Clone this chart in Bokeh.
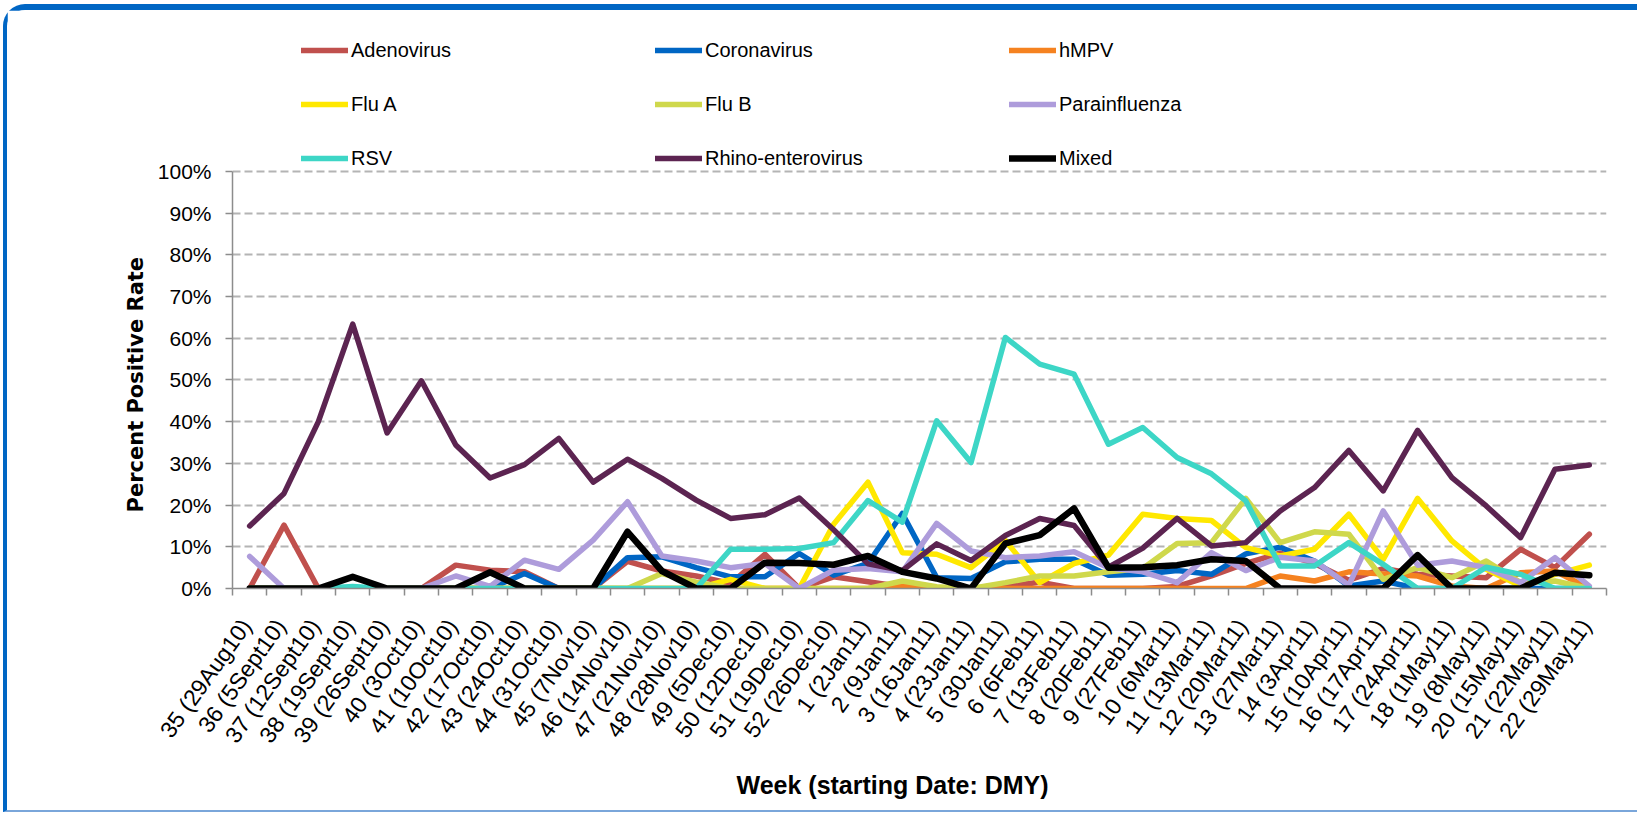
from bokeh.plotting import figure
from bokeh.models import (Range1d, FixedTicker, CustomJSTickFormatter, Legend, LegendItem,
                          PrintfTickFormatter, Title)
from bokeh.layouts import column
from bokeh.embed import file_html
from bokeh.resources import INLINE

weeks = ["35 (29Aug10)", "36 (5Sept10)", "37 (12Sept10)", "38 (19Sept10)", "39 (26Sept10)",
         "40 (3Oct10)", "41 (10Oct10)", "42 (17Oct10)", "43 (24Oct10)", "44 (31Oct10)",
         "45 (7Nov10)", "46 (14Nov10)", "47 (21Nov10)", "48 (28Nov10)", "49 (5Dec10)",
         "50 (12Dec10)", "51 (19Dec10)", "52 (26Dec10)", "1 (2Jan11)", "2 (9Jan11)",
         "3 (16Jan11)", "4 (23Jan11)", "5 (30Jan11)", "6 (6Feb11)", "7 (13Feb11)",
         "8 (20Feb11)", "9 (27Feb11)", "10 (6Mar11)", "11 (13Mar11)", "12 (20Mar11)",
         "13 (27Mar11)", "14 (3Apr11)", "15 (10Apr11)", "16 (17Apr11)", "17 (24Apr11)",
         "18 (1May11)", "19 (8May11)", "20 (15May11)", "21 (22May11)", "22 (29May11)"]

adenovirus = [0, 15.2, 0, 0, 0, 0, 5.6, 4.4, 4.0, 0, 0, 6.5, 4.2, 3.0, 1.2, 8.2, 0, 2.8, 1.6, 0.4,
              0, 0, 0.5, 1.5, 0, 0, 0, 0.5, 3.0, 6.0, 8.5, 6.0, 2.0, 4.8, 3.4, 3.0, 2.6, 9.4, 5.0, 13.0]
coronavirus = [0, 0, 0, 0, 0, 0, 0, 0, 3.6, 0, 0, 7.4, 7.6, 5.0, 2.8, 2.8, 8.4, 3.2, 6.0, 18.0,
               2.6, 2.4, 6.4, 7.0, 7.0, 3.2, 3.4, 4.3, 3.4, 8.3, 9.9, 6.6, 0.6, 1.8, 0, 0, 0, 0, 0, 0]
hmpv = [0, 0, 0, 0, 0, 0, 0, 0, 0, 0, 0, 0, 0, 0, 0, 0, 0, 0, 0, 0.8,
        0, 0, 0, 0, 0, 0, 0, 0, 0, 0, 3.0, 1.8, 4.0, 3.5, 3.0, 0.6, 0, 3.8, 4.2, 0]
flu_a = [0, 0, 0, 0, 0, 0, 0, 0, 0, 0, 0, 0, 0, 0, 2.2, 0, 0, 15.4, 25.5, 8.6,
         8.2, 5.0, 11.5, 1.4, 6.0, 8.0, 17.8, 16.8, 16.3, 9.8, 7.8, 9.4, 17.8, 7.0, 21.6, 11.4, 4.6, 0.6, 3.4, 5.6]
flu_b = [0, 0, 0, 0, 0, 0, 0, 0, 0, 0, 0, 0, 3.6, 1.5, 0, 0, 0, 0, 0, 1.8,
         0.4, 0, 1.4, 3.0, 3.0, 4.0, 4.8, 10.8, 11.0, 21.6, 11.0, 13.6, 13.0, 2.2, 5.0, 2.6, 6.6, 1.4, 1.8, 0]
parainfluenza = [7.7, 0, 0, 0, 0, 0, 3.0, 0.5, 6.8, 4.6, 11.6, 20.8, 7.8, 6.6, 5.0, 6.0, 0, 4.4, 4.8, 4.0,
                 15.6, 9.0, 7.4, 7.8, 8.8, 5.0, 4.0, 1.4, 8.6, 4.3, 7.5, 6.6, 0.8, 18.6, 5.6, 6.6, 5.0, 1.4, 7.4, 0.6]
rsv = [0, 0, 0, 0.5, 0, 0, 0, 0, 0, 0, 0, 0, 0, 0, 9.4, 9.4, 9.6, 11.0, 21.1, 15.9,
       40.2, 30.2, 60.2, 53.8, 51.4, 34.6, 38.6, 31.4, 27.5, 21.0, 5.4, 5.4, 11.0, 5.8, 0, 0, 5.1, 3.4, 0, 0]
rhino = [15.0, 22.8, 40.0, 63.4, 37.3, 49.8, 34.4, 26.5, 29.7, 36.0, 25.5, 31.0, 26.4, 21.2, 16.8, 17.7, 21.7, 14.1, 5.9, 4.3,
         10.7, 6.7, 12.7, 16.8, 15.1, 5.1, 9.7, 16.8, 10.2, 11.0, 18.6, 24.2, 33.1, 23.4, 37.9, 26.6, 19.8, 12.2, 28.6, 29.6]
mixed = [0, 0, 0, 2.8, 0, 0, 0, 3.9, 0, 0, 0, 13.6, 4.2, 0, 0, 6.2, 6.1, 5.7, 7.8, 4.0,
         2.4, 0, 10.8, 12.8, 19.2, 5.0, 5.1, 5.6, 7.0, 6.6, 0, 0, 0, 0, 8.0, 0, 0, 0, 3.8, 3.2]

series_names = ["Adenovirus", "Coronavirus", "hMPV", "Flu A", "Flu B", "Parainfluenza",
                "RSV", "Rhino-enterovirus", "Mixed"]
series_values = [adenovirus, coronavirus, hmpv, flu_a, flu_b, parainfluenza, rsv, rhino, mixed]
series_colors = ["#C0504D", "#0066C4", "#F58220", "#FFE800", "#CFD84C", "#AE9CDB",
                 "#3DD6C6", "#5C2451", "#000000"]

FONT = "Liberation Sans"
x_idx = list(range(len(weeks)))

# frame extends above the 100% line so the legend can sit inside it
p = figure(frame_width=1374, frame_height=568, output_backend="svg", toolbar_location=None,
           x_range=Range1d(-0.5, len(weeks) - 0.5), y_range=Range1d(0, 136.2),
           min_border_left=225, min_border_right=31, min_border_top=10, min_border_bottom=222)
p.outline_line_color = None
p.background_fill_color = "white"
p.border_fill_color = "white"
p.xgrid.visible = False
p.ygrid.grid_line_color = "#B4B4B4"
p.ygrid.grid_line_width = 2
p.ygrid.grid_line_dash = "8 4"

# y axis
p.yaxis.ticker = FixedTicker(ticks=list(range(0, 101, 10)))
p.yaxis.bounds = (0, 100)
p.yaxis.formatter = PrintfTickFormatter(format="%d%%")
p.yaxis.axis_line_color = "#8C8C8C"
p.yaxis.axis_line_width = 1.5
p.yaxis.major_tick_line_color = "#8C8C8C"
p.yaxis.major_tick_line_width = 1.5
p.yaxis.major_tick_in = 0
p.yaxis.major_tick_out = 7
p.yaxis.minor_tick_line_color = None
p.yaxis.major_label_standoff = 14
p.yaxis.major_label_text_font = FONT
p.yaxis.major_label_text_font_size = "21px"
p.yaxis.major_label_text_color = "#000000"

ytitle = Title(text="Percent Positive Rate", align="left", offset=76, standoff=14,
               text_font="DejaVu Sans", text_font_style="bold", text_font_size="21px",
               text_color="#000000")
p.add_layout(ytitle, "left")

# x axis: labels at category centres, tick marks (minor) at category boundaries
p.xaxis.ticker = FixedTicker(ticks=[i - 0.1 for i in x_idx],
                             minor_ticks=[i - 0.5 for i in range(len(weeks) + 1)])
p.xaxis.formatter = CustomJSTickFormatter(args=dict(labels=weeks),
                                          code="return labels[Math.round(tick + 0.1)];")
p.xaxis.axis_line_color = "#8C8C8C"
p.xaxis.axis_line_width = 1.5
p.xaxis.major_tick_line_color = None
p.xaxis.major_tick_in = 0
p.xaxis.major_tick_out = 7
p.xaxis.minor_tick_line_color = "#8C8C8C"
p.xaxis.minor_tick_line_width = 1.5
p.xaxis.minor_tick_in = 0
p.xaxis.minor_tick_out = 7
p.xaxis.major_label_orientation = 0.95
p.xaxis.major_label_standoff = 26
p.xaxis.major_label_text_font = FONT
p.xaxis.major_label_text_font_size = "23px"
p.xaxis.major_label_text_color = "#000000"

xtitle = Title(text="Week (starting Date: DMY)", align="left", offset=504, standoff=21,
               text_font=FONT, text_font_style="bold", text_font_size="25px",
               text_color="#000000")
p.add_layout(xtitle, "below")

items = []
for name, vals, col in zip(series_names, series_values, series_colors):
    r = p.line(x_idx, vals, line_color=col, line_width=6.5 if name == "Mixed" else 5.5,
               line_join="round", line_cap="round")
    items.append(LegendItem(label=name, renderers=[r]))

legend = Legend(items=items, ncols=3, location=(69, 403), orientation="horizontal",
                glyph_width=47, glyph_height=54, label_width=304, label_height=54,
                label_standoff=3, spacing=0, padding=0, margin=0,
                border_line_color=None, background_fill_alpha=0,
                label_text_font=FONT, label_text_font_size="20px",
                label_text_color="#000000")
p.add_layout(legend, "center")

layout = column(p, styles={"border-top": "6px solid #0066C4",
                           "border-left": "4px solid #0066C4",
                           "border-bottom": "2px solid #7AA6DA",
                           "border-top-left-radius": "22px",
                           "margin-top": "4px", "margin-left": "3px",
                           "background-color": "white"})

open("out.html", "w").write(file_html(layout, INLINE))
